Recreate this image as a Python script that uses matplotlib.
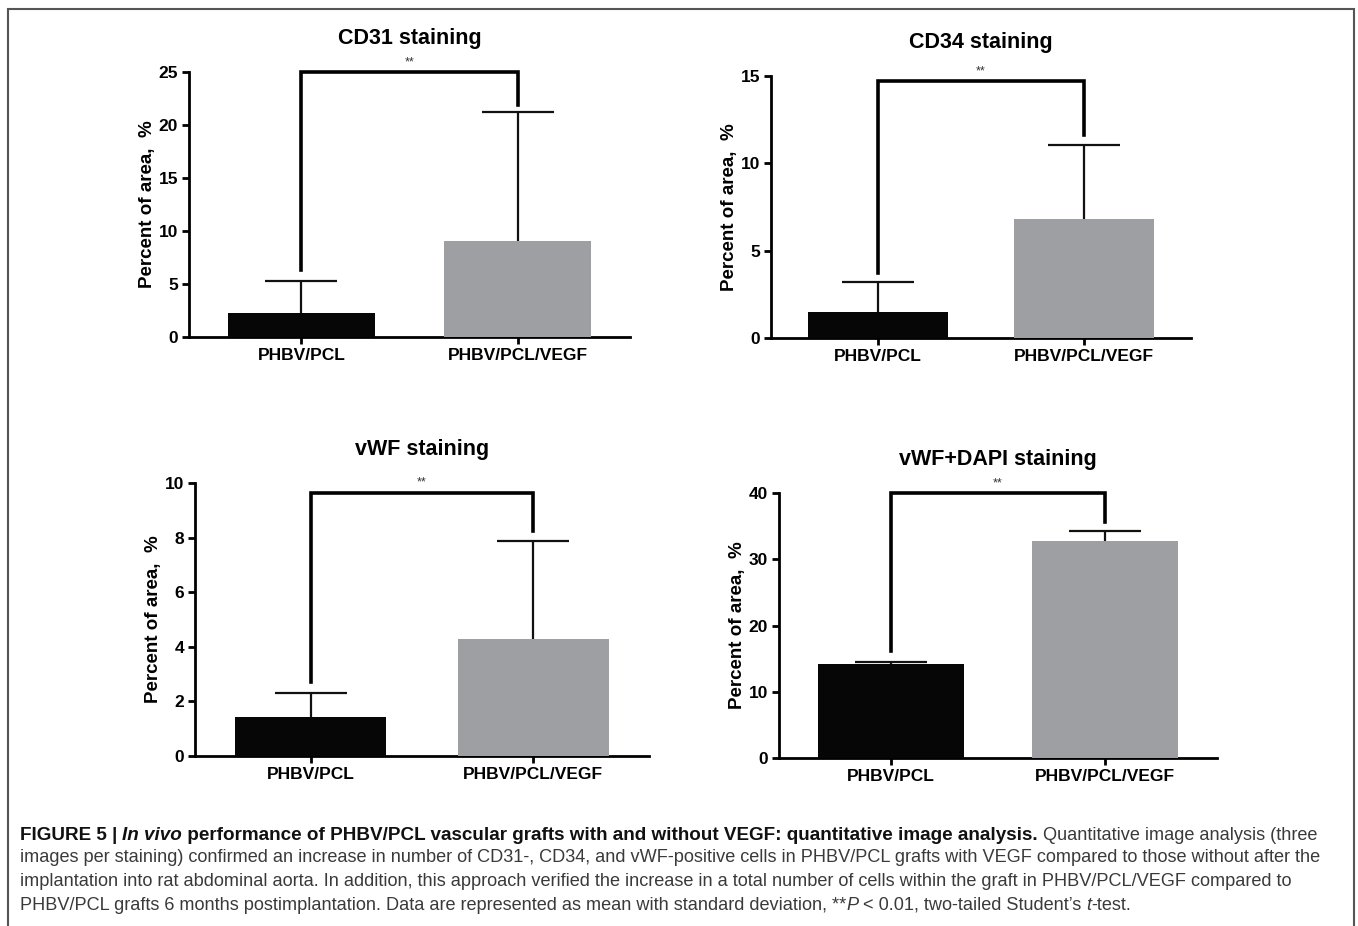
import matplotlib
matplotlib.use('Agg')
import matplotlib.pyplot as plt
from matplotlib.patches import Rectangle

plt.rcParams['font.family'] = ['Liberation Sans', 'DejaVu Sans']

groups = ['PHBV/PCL', 'PHBV/PCL/VEGF']
titles = ['CD31 staining', 'CD34 staining', 'vWF staining', 'vWF+DAPI staining']
y_max = [25, 15, 10, 40]
y_step = [5, 5, 2, 10]

cd31_mean = [2.25, 9.05]
cd31_sd = [3.05, 12.15]
cd34_mean = [1.5, 6.8]
cd34_sd = [1.7, 4.25]
vwf_mean = [1.42, 4.28]
vwf_sd = [0.9, 3.59]
dapi_mean = [14.2, 32.8]
dapi_sd = [0.3, 1.4]

# significance bracket: top, left leg end, right leg end
sig_top = [25.0, 14.7, 9.65, 40.0]
sig_left = [6.3, 3.7, 2.7, 16.1]
sig_right = [21.9, 11.6, 8.25, 35.6]

means = [cd31_mean, cd34_mean, vwf_mean, dapi_mean]
sds = [cd31_sd, cd34_sd, vwf_sd, dapi_sd]

W, H = 1358, 926
fig = plt.figure(figsize=(W / 100, H / 100), dpi=100)

# axes boxes in pixels: x0, x1, ytop, ybottom
boxes = [(189, 630, 72, 337), (771, 1191, 76, 338),
         (195, 649, 483, 756), (779, 1217, 493, 758)]

bar_colors = ['#060606', '#9e9fa3']

for i in range(4):
    x0, x1, yt, yb = boxes[i]
    ax = fig.add_axes([x0 / W, 1 - yb / H, (x1 - x0) / W, (yb - yt) / H])
    ax.bar([0, 1], means[i], width=0.68, color=bar_colors, zorder=3)
    eb = ax.errorbar([0, 1], means[i], yerr=[[0, 0], sds[i]], fmt='none',
                     ecolor='#111111', elinewidth=1.6, capsize=26, capthick=1.6, zorder=2)
    eb[1][0].set_visible(False)  # no lower caps
    ax.plot([0, 0, 1, 1], [sig_left[i], sig_top[i], sig_top[i], sig_right[i]],
            color='black', lw=2.6, clip_on=False, zorder=4, solid_joinstyle='miter')
    ax.text(0.5, sig_top[i] + y_max[i] * 0.015, '**', ha='center', va='bottom',
            fontsize=9, color='#333333')
    ax.set_xlim(-0.52, 1.52)
    ax.set_ylim(0, y_max[i])
    ax.set_yticks(range(0, y_max[i] + 1, y_step[i]))
    ax.set_xticks([0, 1])
    ax.set_xticklabels(groups)
    for s in ['top', 'right']:
        ax.spines[s].set_visible(False)
    for s in ['left', 'bottom']:
        ax.spines[s].set_linewidth(2.0)
    ax.tick_params(axis='both', width=2.0, length=5, labelsize=12.5, pad=3)
    for lab in ax.get_xticklabels() + ax.get_yticklabels():
        lab.set_fontweight('bold')
    ax.set_ylabel('Percent of area,  %', fontsize=13.5, fontweight='bold', labelpad=2)
    ax.set_title(titles[i], fontsize=15.5, fontweight='bold', pad=20)

# outer frame
fig.add_artist(Rectangle((8 / W, -0.02), (1354 - 8) / W, 1 - 9 / H + 0.02,
                         transform=fig.transFigure, fill=False,
                         edgecolor='#555555', lw=1.5))

# caption
caption = [
    [('FIGURE 5 | ', 'bold', 'normal'), ('In vivo', 'bold', 'italic'),
     (' performance of PHBV/PCL vascular grafts with and without VEGF: quantitative image analysis.', 'bold', 'normal'),
     (' Quantitative image analysis (three', 'normal', 'normal')],
    [('images per staining) confirmed an increase in number of CD31-, CD34, and vWF-positive cells in PHBV/PCL grafts with VEGF compared to those without after the', 'normal', 'normal')],
    [('implantation into rat abdominal aorta. In addition, this approach verified the increase in a total number of cells within the graft in PHBV/PCL/VEGF compared to', 'normal', 'normal')],
    [('PHBV/PCL grafts 6 months postimplantation. Data are represented as mean with standard deviation, **', 'normal', 'normal'),
     ('P', 'normal', 'italic'), (' < 0.01, two-tailed Student\u2019s ', 'normal', 'normal'),
     ('t', 'normal', 'italic'), ('-test.', 'normal', 'normal')],
]
line_y = [835, 858, 882, 905]

renderer = fig.canvas.get_renderer()
for segs, ly in zip(caption, line_y):
    x = 20
    for txt, weight, style in segs:
        if weight == 'bold':
            col, size = '#111111', 13.6
        else:
            col, size = '#3a3a3a', 13.05
        t = fig.text(x / W, 1 - ly / H, txt, fontsize=size, fontweight=weight,
                     fontstyle=style, color=col, va='center', ha='left')
        x += t.get_window_extent(renderer).width

fig.savefig('out.png', dpi=100)
